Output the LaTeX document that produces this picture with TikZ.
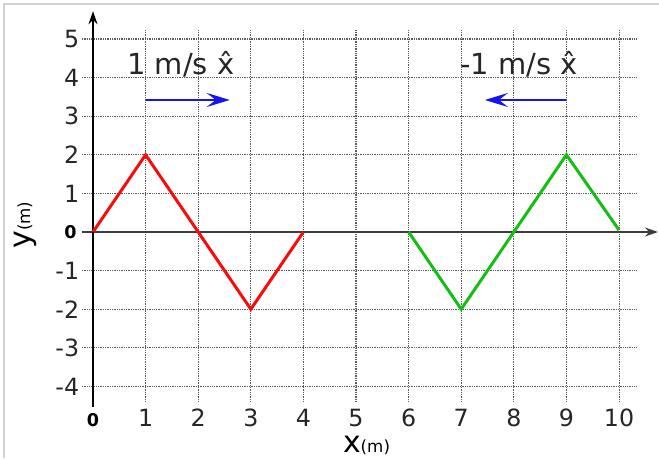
\documentclass[tikz,border=0pt]{standalone}
\usepackage{fontspec}
\setmainfont{DejaVu Sans}
\usetikzlibrary{arrows.meta,positioning}
\definecolor{wavered}{RGB}{250,10,10}
\definecolor{wavegreen}{RGB}{20,190,20}
\definecolor{vblue}{RGB}{20,20,240}
\definecolor{gridgray}{RGB}{90,90,90}
\definecolor{axisgray}{RGB}{60,60,60}
\definecolor{framegray}{RGB}{210,210,210}
\tikzset{
  >={Stealth[length=2.6mm,width=1.8mm]},
  gridline/.style={gridgray,dash pattern=on 0.5pt off 0.5pt,line width=0.6pt},
  wave/.style={draw=#1,line width=1.7pt,line join=miter},
  wave/.default=wavered,
  speed/.style={->,draw=vblue,line width=1.4pt,>={Stealth[length=4.6mm,width=2.8mm,inset=1.8mm]}},
  ticklab/.style={font=\fontsize{13.5}{15}\selectfont,text=black!85,inner sep=0.5pt},
  zerolab/.style={font=\fontsize{10}{11}\selectfont\bfseries,inner sep=1pt},
  vlab/.style={font=\fontsize{16.5}{18}\selectfont,text=black!85},
  axlab/.style={font=\fontsize{17}{19}\selectfont,inner sep=0pt},
}
\newcommand{\unitm}{{\fontsize{9.5}{11}\selectfont(m)}}

\begin{document}
\begin{tikzpicture}[x=1.052cm,y=0.772cm]
    \useasboundingbox (-1.768,-5.855) rectangle (10.76,6.01);
    \draw[framegray,line width=1.2pt] (-1.69,-5.855) -- (-1.69,5.9) -- (10.76,5.9);
    % grid
    \foreach \y in {-4,...,-1,1,2,...,5} \draw[gridline] (-0.21,\y) -- (10.34,\y);
    \foreach \x in {1,...,10} \draw[gridline] (\x,-4.4) -- (\x,5.23);
    % axes
    \coordinate (ybot) at (0,-4.53);
    \coordinate (ytop) at (0,5.72);
    \coordinate (xleft) at (-0.21,0);
    \coordinate (xright) at (10.74,0);
    \draw[->,axisgray,line width=1.1pt] (xleft) -- (xright);
    \draw[->,black,line width=0.8pt] (ybot) -- (ytop);
    % tick labels
    \foreach \y in {-4,...,-1,1,2,...,5} \node[ticklab,anchor=east] (yl\y) at (-0.24,\y) {\y};
    \foreach \x in {1,...,10} \node[ticklab,anchor=base] (xl\x) at (\x,-5.03) {\x};
    \node[zerolab,anchor=east] (yl0) at (-0.27,0) {0};
    \node[zerolab,anchor=base] (xl0) at (0,-5.03) {0};
    \node[axlab,anchor=base] (xname) at (5.2,-5.72) {x\unitm};
    \node[axlab,rotate=90] (yname) at (-1.29,0.18) {y\unitm};
    % waves
    \draw[wave=wavered] (0,0) -- (1,2) -- (3,-2) -- (4,0);
    \draw[wave=wavegreen] (6,0) -- (7,-2) -- (9,2) -- (10,0.05);
    % velocities
    \node[vlab] (vright) at (1.67,4.35) {1 m/s \^{x}};
    \node[vlab] (vleft) at (8.1,4.35) {-1 m/s \^{x}};
    \coordinate (rs) at (1,3.42);
    \coordinate (re) at (2.6,3.42);
    \coordinate (ls) at (9,3.42);
    \coordinate (le) at (7.45,3.42);
    \draw[speed] (rs) -- (re);
    \draw[speed] (ls) -- (le);
  \end{tikzpicture}
\end{document}
